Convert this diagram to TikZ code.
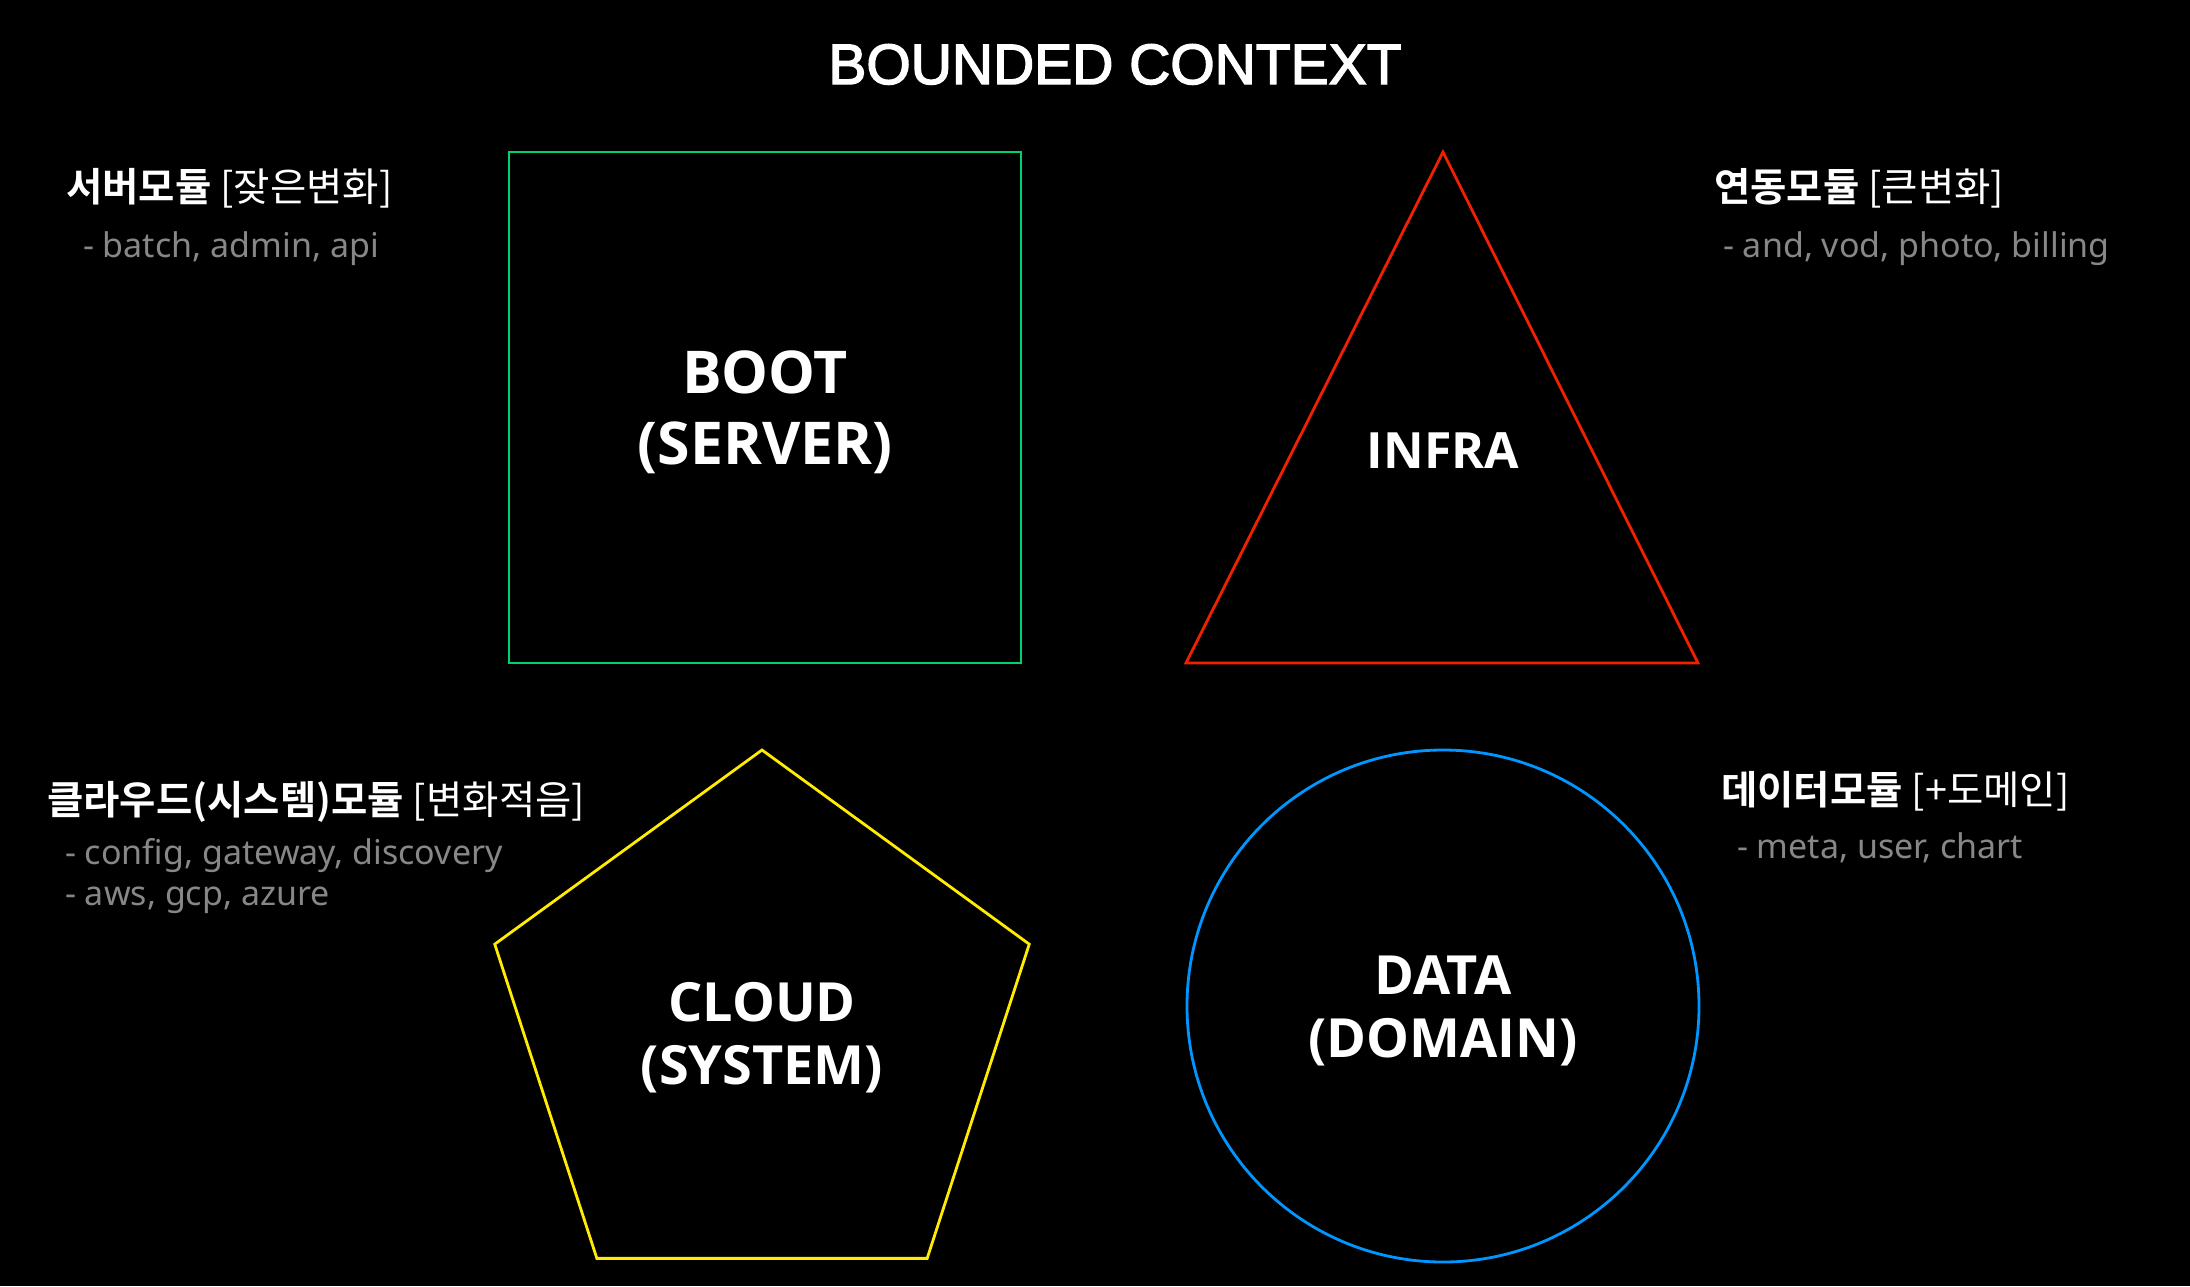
\documentclass[tikz,border=0pt]{standalone}
\usepackage{fontspec}
\setmainfont{Noto Sans}
\newfontfamily\labelfont{Open Sans}
\newfontfamily\krfont{Noto Sans CJK KR}[BoldFont={Noto Sans CJK KR Bold}]
\newfontfamily\headfont{Liberation Sans}[FakeBold=2.5]
\usetikzlibrary{shapes.geometric}

\definecolor{bootgreen}{RGB}{0,210,106}
\definecolor{infrared}{RGB}{240,32,0}
\definecolor{cloudyellow}{RGB}{255,236,0}
\definecolor{datablue}{RGB}{0,150,255}
\definecolor{notegray}{RGB}{135,135,135}

\begin{document}
\begin{tikzpicture}[x=1pt,y=-1pt]
\tikzset{
  shapebox/.style={draw,line width=2.8pt,fill=black,text=white,align=center,inner sep=0pt,font=\labelfont\bfseries\fontsize{54}{63}\selectfont},
  modtitle/.style={anchor=base west,inner sep=0pt,text=white,font=\krfont\fontsize{39.5}{44}\selectfont},
  modnote/.style={anchor=base west,inner sep=0pt,text=notegray,font=\fontsize{34}{41}\selectfont}
}
\fill[black] (0,0) rectangle (2190,1286);
\useasboundingbox (0,0) rectangle (2190,1286);

\node[anchor=base,inner sep=0pt,text=white,font=\headfont\fontsize{57}{60}\selectfont] (n_title) at (1115,84) {BOUNDED CONTEXT};

% the four module shapes
\node[shapebox,draw=bootgreen,rectangle,minimum width=512pt,minimum height=511pt] (n_boot) at (765,407.5) {};
\node[shapebox,draw=none,fill=none,font=\labelfont\bfseries\fontsize{59}{71}\selectfont] (n_bootlabel) at (765,412) {BOOT\\(SERVER)};
\coordinate (t_top) at (1443,152);
\coordinate (t_left) at (1186,663);
\coordinate (t_right) at (1698,663);
\draw[infrared,line width=2.8pt] (t_top) -- (t_right) -- (t_left) -- cycle;
\node[shapebox,draw=none,fill=none,font=\labelfont\bfseries\fontsize{50}{60}\selectfont] (n_infra) at (1443,451) {INFRA};
\node[shapebox,draw=cloudyellow,regular polygon,regular polygon sides=5,minimum size=562pt] (n_cloud) at (762,1031) {};
\node[shapebox,draw=none,fill=none] (n_cloudlabel) at (762,1038) {CLOUD\\(SYSTEM)};
\node[shapebox,draw=datablue,circle,minimum size=512pt] (n_data) at (1443,1006) {};
\node[shapebox,draw=none,fill=none] (n_datalabel) at (1443,1011) {DATA\\(DOMAIN)};

% module notes
\node[modtitle] (n_server) at (66,201) {\textbf{서버모듈} [잦은변화]};
\node[modnote] (n_servernote) at (83,257) {- batch, admin, api};
\node[modtitle] (n_link) at (1714,201) {\textbf{연동모듈} [큰변화]};
\node[modnote] (n_linknote) at (1723,257) {- and, vod, photo, billing};
\node[modtitle] (n_system) at (47,814) {\textbf{클라우드(시스템)모듈} [변화적음]};
\node[modnote] (n_systemnote) at (65,864) {- config, gateway, discovery};
\node[modnote] (n_systemnote2) at (65,905) {- aws, gcp, azure};
\node[modtitle] (n_domain) at (1721,804) {\textbf{데이터모듈} [+도메인]};
\node[modnote] (n_domainnote) at (1737,858) {- meta, user, chart};
\end{tikzpicture}
\end{document}
